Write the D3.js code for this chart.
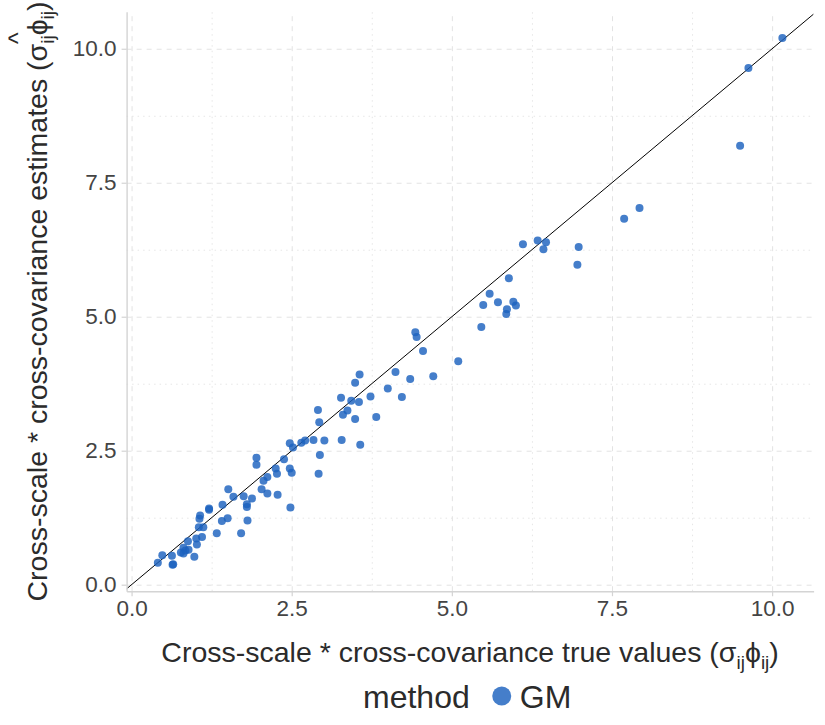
<!DOCTYPE html>
<html>
<head>
<meta charset="utf-8">
<script src="https://cdn.jsdelivr.net/npm/d3@7"></script>
<style>
  body { margin: 0; background: #fff; }
  text { font-family: "Liberation Sans", Arial, sans-serif; }
</style>
</head>
<body>
<div id="chart"></div>
<script>
// values
const trueValues = [
  10.16, 9.63, 9.50, 7.93, 7.69, 6.98, 6.96, 6.11, 6.34, 6.47,
  6.43, 5.89, 5.59, 5.49, 5.72, 5.96, 6.00, 5.86, 5.85, 5.46,
  4.55, 5.10, 4.71, 4.43, 4.45, 4.12, 4.35, 4.00, 4.22, 3.56,
  3.49, 3.73, 3.27, 3.43, 3.55, 3.37, 3.30, 3.49, 3.82, 2.91,
  2.93, 2.52, 2.47, 2.65, 2.71, 2.84, 3.01, 3.28, 3.57, 2.94,
  2.92, 1.95, 1.95, 2.38, 2.25, 2.27, 2.47, 2.50, 2.12, 2.06,
  2.03, 2.12, 2.28, 1.51, 1.59, 1.75, 1.88, 1.80, 1.80, 1.42,
  1.21, 2.48, 1.07, 1.06, 1.05, 1.12, 1.10, 1.01, 1.02, 0.88,
  0.89, 0.84, 0.81, 0.77, 0.81, 0.98, 1.33, 1.71, 1.41, 1.50,
  1.81, 0.63, 0.48, 0.41, 0.64, 0.65, 1.21
];
const estimates = [
  10.20, 9.64, 8.19, 7.03, 6.83, 6.30, 5.97, 6.35, 6.42, 6.39,
  6.26, 5.72, 5.43, 5.22, 5.27, 5.28, 5.21, 5.14, 5.05, 4.81,
  4.36, 4.17, 3.89, 4.71, 4.62, 3.97, 3.84, 3.66, 3.50, 3.92,
  3.77, 3.51, 3.49, 3.43, 3.41, 3.25, 3.17, 3.09, 3.13, 3.26,
  3.03, 2.56, 2.64, 2.65, 2.69, 2.70, 2.69, 2.70, 2.61, 2.42,
  2.07, 2.37, 2.24, 2.34, 2.17, 2.07, 2.17, 2.09, 2.01, 1.94,
  1.78, 1.70, 1.68, 1.78, 1.64, 1.65, 1.61, 1.50, 1.45, 1.49,
  1.42, 1.44, 1.29, 1.23, 1.07, 1.07, 0.89, 0.86, 0.75, 0.81,
  0.65, 0.64, 0.69, 0.60, 0.58, 0.52, 0.96, 0.96, 1.19, 1.24,
  1.20, 0.54, 0.55, 0.41, 0.37, 0.38, 1.40
];
const majorTicks = [0, 2.5, 5, 7.5, 10];
const minorTicks = [1.25, 3.75, 6.25, 8.75];
const legendTitle = "method";
const methodName = "GM";

const width = 825, height = 725;
const panel = { left: 126.6, top: 11.7, right: 813.6, bottom: 591.2 };
const pointColor = "#1c62be";
const titleSize = 28.5;

const points = trueValues.map((v, i) => ({ x: v, y: estimates[i] }));

// ggplot-style 5% expansion of the data range
function padded(values) {
  const [lo, hi] = d3.extent(values);
  const pad = (hi - lo) * 0.05;
  return [lo - pad, hi + pad];
}

const x = d3.scaleLinear().domain(padded(trueValues)).range([panel.left, panel.right]);
const y = d3.scaleLinear().domain(padded(estimates)).range([panel.bottom, panel.top]);

const svg = d3.select("#chart").append("svg")
  .attr("width", width)
  .attr("height", height);

svg.append("defs").append("clipPath").attr("id", "panel-clip")
  .append("rect")
  .attr("x", panel.left).attr("y", panel.top)
  .attr("width", panel.right - panel.left)
  .attr("height", panel.bottom - panel.top);

// grid: dotted minor, dashed major
const grid = svg.append("g").attr("class", "grid");
function gridLines(ticks, dash, color) {
  grid.append("g")
    .attr("transform", `translate(0,${panel.bottom})`)
    .call(d3.axisBottom(x).tickValues(ticks).tickSize(-(panel.bottom - panel.top)).tickFormat(""))
    .call(g => g.select(".domain").remove())
    .selectAll("line").attr("stroke", color).attr("stroke-dasharray", dash);
  grid.append("g")
    .attr("transform", `translate(${panel.left},0)`)
    .call(d3.axisLeft(y).tickValues(ticks).tickSize(-(panel.right - panel.left)).tickFormat(""))
    .call(g => g.select(".domain").remove())
    .selectAll("line").attr("stroke", color).attr("stroke-dasharray", dash);
}
gridLines(minorTicks, "1.5,4", "#e6e6e6");
gridLines(majorTicks, "5,5", "#e3e3e3");

// y = x reference line
svg.append("line")
  .attr("clip-path", "url(#panel-clip)")
  .attr("x1", x(x.domain()[0])).attr("y1", y(x.domain()[0]))
  .attr("x2", x(x.domain()[1])).attr("y2", y(x.domain()[1]))
  .attr("stroke", "#000")
  .attr("stroke-width", 1);

svg.append("g")
  .selectAll("circle")
  .data(points)
  .join("circle")
  .attr("cx", d => x(d.x))
  .attr("cy", d => y(d.y))
  .attr("r", 4)
  .attr("fill", pointColor)
  .attr("fill-opacity", 0.82);

// axes
const fmt = d3.format(".1f");
const xAxis = svg.append("g")
  .attr("transform", `translate(0,${panel.bottom})`)
  .call(d3.axisBottom(x).tickValues(majorTicks).tickFormat(fmt).tickSize(5).tickPadding(4).tickSizeOuter(0));
const yAxis = svg.append("g")
  .attr("transform", `translate(${panel.left},0)`)
  .call(d3.axisLeft(y).tickValues(majorTicks).tickFormat(fmt).tickSize(5).tickPadding(5).tickSizeOuter(0));

[xAxis, yAxis].forEach(a => {
  a.select(".domain").attr("stroke", "#d4d4d4").attr("stroke-width", 1.4);
  a.selectAll(".tick line").attr("stroke", "#d4d4d4").attr("stroke-width", 1.2);
  a.selectAll(".tick text").attr("fill", "#444").style("font-size", "22.5px");
});

// x axis title
const xTitle = svg.append("text")
  .attr("x", (panel.left + panel.right) / 2)
  .attr("y", 662)
  .attr("text-anchor", "middle")
  .attr("fill", "#2b2b2b")
  .style("font-size", titleSize + "px");
xTitle.append("tspan").text("Cross-scale * cross-covariance true values (σ");
xTitle.append("tspan").attr("dy", 7).style("font-size", "19px").text("ij");
xTitle.append("tspan").attr("dy", -7).text("ϕ");
xTitle.append("tspan").attr("dy", 7).style("font-size", "19px").text("ij");
xTitle.append("tspan").attr("dy", -7).text(")");

// y axis title (rotated) with a hat over the estimate symbol
const yTitleG = svg.append("g")
  .attr("transform", `translate(47,${(panel.top + panel.bottom) / 2}) rotate(-90)`);
const yTitle = yTitleG.append("text")
  .attr("text-anchor", "middle")
  .attr("fill", "#2b2b2b")
  .style("font-size", titleSize + "px");
yTitle.append("tspan").text("Cross-scale * cross-covariance estimates (");
yTitle.append("tspan").text("σ");
yTitle.append("tspan").attr("dy", 7).style("font-size", "19px").text("ij");
yTitle.append("tspan").attr("dy", -7).text("ϕ");
yTitle.append("tspan").attr("dy", 7).style("font-size", "19px").text("ij");
yTitle.append("tspan").attr("dy", -7).text(")");

const node = yTitle.node();
const full = node.textContent;
const start = node.getStartPositionOfChar(full.indexOf("σ")).x;
const end = node.getEndPositionOfChar(full.lastIndexOf("j")).x;
yTitleG.append("text")
  .attr("x", (start + end) / 2 - 2)
  .attr("y", -20)
  .attr("text-anchor", "middle")
  .attr("fill", "#2b2b2b")
  .style("font-size", "25px")
  .text("^");

// legend
const legend = svg.append("g").attr("transform", "translate(0,708)");
const legendText = legend.append("text")
  .attr("x", 363)
  .attr("fill", "#2b2b2b")
  .style("font-size", "32px")
  .text(legendTitle);
const lw = legendText.node().getComputedTextLength();
legend.append("circle")
  .attr("cx", 363 + lw + 32)
  .attr("cy", -12)
  .attr("r", 9.5)
  .attr("fill", pointColor)
  .attr("fill-opacity", 0.82);
legend.append("text")
  .attr("x", 363 + lw + 50)
  .attr("fill", "#2b2b2b")
  .style("font-size", "32px")
  .text(methodName);
</script>
</body>
</html>
